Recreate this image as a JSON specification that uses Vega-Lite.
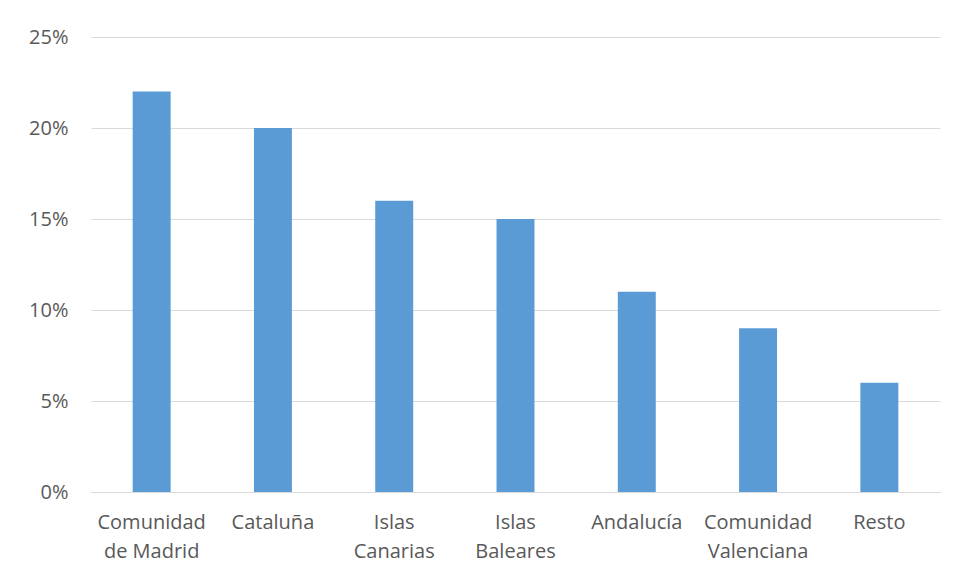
{
  "$schema": "https://vega.github.io/schema/vega-lite/v6.json",
  "autosize": "none",
  "width": 849,
  "height": 455,
  "padding": {"left": 91, "top": 37, "right": 18, "bottom": 89},
  "background": "white",
  "data": {"values": [
    {"region": "Comunidad de Madrid", "value": 0.22},
    {"region": "Cataluña", "value": 0.20},
    {"region": "Islas Canarias", "value": 0.16},
    {"region": "Islas Baleares", "value": 0.15},
    {"region": "Andalucía", "value": 0.11},
    {"region": "Comunidad Valenciana", "value": 0.09},
    {"region": "Resto", "value": 0.06}
  ]},
  "mark": {"type": "bar", "color": "#5b9bd5"},
  "encoding": {
    "x": {
      "field": "region", "type": "nominal", "sort": null,
      "scale": {"paddingInner": 0.687, "paddingOuter": 0.3435},
      "axis": {
        "title": null, "labelAngle": 0, "domain": true, "domainColor": "#d9d9d9", "domainWidth": 1,
        "ticks": false, "labelPadding": 20, "labelFont": "Open Sans", "labelFontSize": 20,
        "labelColor": "#595959", "labelLineHeight": 29, "labelBaseline": "top",
        "labelExpr": "datum.label == 'Comunidad de Madrid' ? ['Comunidad', 'de Madrid'] : split(datum.label, ' ')"
      }
    },
    "y": {
      "field": "value", "type": "quantitative",
      "scale": {"domain": [0, 0.25]},
      "axis": {
        "title": null, "format": ".0%", "values": [0, 0.05, 0.1, 0.15, 0.2, 0.25],
        "domain": false, "ticks": false, "grid": true, "gridColor": "#d9d9d9", "gridWidth": 1,
        "labelPadding": 23, "labelFont": "Open Sans", "labelFontSize": 20, "labelColor": "#595959"
      }
    }
  },
  "config": {"view": {"stroke": null}}
}
